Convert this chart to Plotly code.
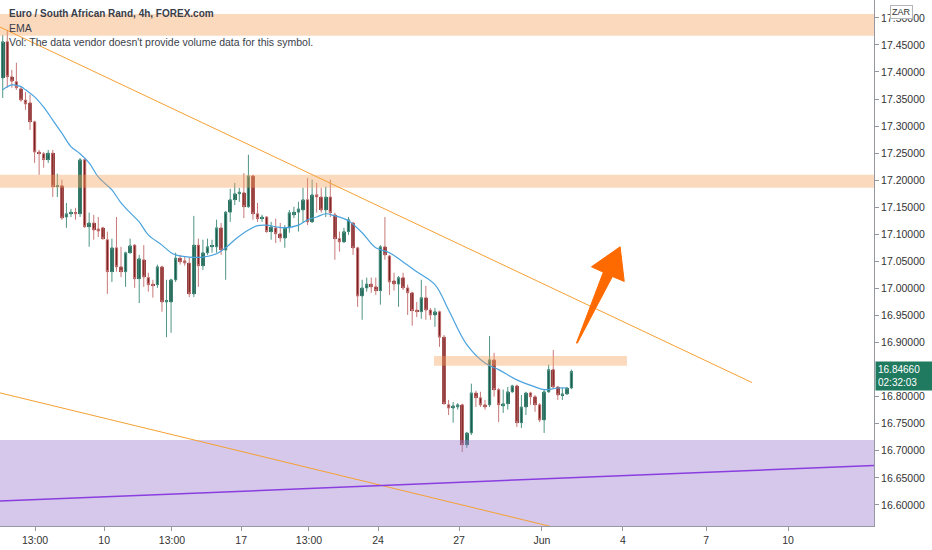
import plotly.graph_objects as go

# EUR/ZAR 4h candles (oldest first)
opens = [17.389, 17.456, 17.391, 17.382, 17.369, 17.348, 17.343, 17.308, 17.252, 17.249,
         17.238, 17.250, 17.188, 17.190, 17.132, 17.138, 17.140, 17.138, 17.238, 17.114,
         17.121, 17.110, 17.112, 17.090, 17.031, 17.075, 17.040, 17.031, 17.066, 17.080,
         17.018, 17.053, 17.020, 17.008, 17.007, 17.040, 16.975, 16.975, 17.016, 17.056,
         17.051, 17.047, 16.990, 17.080, 17.042, 17.066, 17.077, 17.077, 17.112, 17.071,
         17.141, 17.164, 17.175, 17.177, 17.151, 17.208, 17.138, 17.129, 17.132, 17.105,
         17.112, 17.101, 17.093, 17.112, 17.136, 17.141, 17.145, 17.164, 17.123, 17.173,
         17.169, 17.145, 17.169, 17.136, 17.092, 17.086, 17.105, 17.121, 17.075, 16.986,
         17.001, 17.008, 17.003, 16.996, 17.077, 17.060, 17.014, 17.008, 17.020, 17.001,
         16.992, 16.960, 16.957, 16.983, 16.960, 16.951, 16.957, 16.910, 16.785, 16.779,
         16.781, 16.785, 16.711, 16.733, 16.807, 16.798, 16.785, 16.785, 16.868, 16.813,
         16.783, 16.787, 16.809, 16.820, 16.752, 16.781, 16.807, 16.800, 16.785, 16.757,
         16.809, 16.850, 16.818, 16.803, 16.805, 16.816]
highs = [17.468, 17.478, 17.404, 17.417, 17.372, 17.363, 17.358, 17.310, 17.256, 17.252,
         17.256, 17.256, 17.212, 17.201, 17.158, 17.147, 17.149, 17.241, 17.240, 17.140,
         17.136, 17.132, 17.114, 17.105, 17.092, 17.132, 17.077, 17.068, 17.092, 17.082,
         17.062, 17.080, 17.029, 17.016, 17.044, 17.042, 17.016, 17.018, 17.066, 17.062,
         17.058, 17.058, 17.134, 17.092, 17.090, 17.092, 17.090, 17.127, 17.121, 17.143,
         17.184, 17.195, 17.186, 17.213, 17.247, 17.210, 17.158, 17.136, 17.134, 17.123,
         17.129, 17.121, 17.117, 17.145, 17.151, 17.160, 17.186, 17.204, 17.201, 17.195,
         17.186, 17.188, 17.201, 17.140, 17.105, 17.112, 17.132, 17.123, 17.077, 17.016,
         17.020, 17.020, 17.020, 17.080, 17.132, 17.062, 17.029, 17.023, 17.029, 17.007,
         16.994, 16.975, 17.016, 17.005, 16.964, 16.964, 16.959, 16.914, 16.794, 16.790,
         16.788, 16.787, 16.735, 16.824, 16.811, 16.809, 16.794, 16.912, 16.881, 16.816,
         16.813, 16.818, 16.822, 16.822, 16.803, 16.809, 16.809, 16.803, 16.788, 16.813,
         16.859, 16.886, 16.820, 16.816, 16.818, 16.850]
lows = [17.352, 17.371, 17.371, 17.367, 17.345, 17.330, 17.293, 17.232, 17.210, 17.223,
        17.232, 17.169, 17.169, 17.127, 17.112, 17.132, 17.127, 17.132, 17.112, 17.077,
        17.090, 17.095, 17.090, 16.990, 17.012, 17.031, 17.021, 17.003, 17.064, 17.001,
        16.973, 17.003, 16.994, 16.983, 17.001, 16.957, 16.910, 16.918, 17.012, 17.044,
        17.042, 16.984, 16.984, 17.003, 17.034, 17.062, 17.066, 17.066, 17.062, 17.016,
        17.123, 17.154, 17.160, 17.130, 17.149, 17.127, 17.123, 17.123, 17.103, 17.090,
        17.084, 17.086, 17.075, 17.103, 17.130, 17.105, 17.121, 17.117, 17.121, 17.140,
        17.140, 17.132, 17.132, 17.053, 17.068, 17.084, 17.099, 17.062, 16.966, 16.942,
        16.994, 16.992, 16.988, 16.970, 17.053, 16.988, 16.996, 16.966, 16.997, 16.951,
        16.931, 16.947, 16.944, 16.942, 16.942, 16.929, 16.892, 16.785, 16.766, 16.752,
        16.776, 16.698, 16.705, 16.729, 16.781, 16.781, 16.776, 16.781, 16.800, 16.753,
        16.770, 16.776, 16.807, 16.744, 16.742, 16.766, 16.785, 16.772, 16.753, 16.733,
        16.807, 16.816, 16.794, 16.794, 16.803, 16.814]
closes = [17.456, 17.391, 17.383, 17.371, 17.348, 17.341, 17.308, 17.252, 17.249, 17.238,
          17.250, 17.188, 17.190, 17.130, 17.138, 17.141, 17.138, 17.238, 17.114, 17.121,
          17.108, 17.106, 17.092, 17.031, 17.075, 17.040, 17.031, 17.066, 17.079, 17.018,
          17.055, 17.021, 17.007, 17.005, 17.040, 16.975, 16.977, 17.016, 17.056, 17.049,
          17.047, 16.990, 17.080, 17.042, 17.066, 17.077, 17.079, 17.112, 17.071, 17.141,
          17.164, 17.175, 17.178, 17.151, 17.208, 17.138, 17.129, 17.132, 17.105, 17.114,
          17.101, 17.093, 17.112, 17.140, 17.141, 17.147, 17.164, 17.123, 17.173, 17.169,
          17.145, 17.169, 17.140, 17.092, 17.086, 17.105, 17.127, 17.075, 16.986, 17.001,
          17.008, 17.003, 16.996, 17.077, 17.062, 17.012, 17.008, 17.020, 17.001, 16.992,
          16.959, 16.957, 16.983, 16.960, 16.951, 16.957, 16.910, 16.787, 16.779, 16.783,
          16.785, 16.711, 16.733, 16.807, 16.798, 16.785, 16.781, 16.868, 16.813, 16.785,
          16.787, 16.809, 16.820, 16.752, 16.781, 16.807, 16.800, 16.785, 16.757, 16.809,
          16.850, 16.818, 16.803, 16.805, 16.816, 16.8466]
bars = list(range(len(closes)))

# EMA line, read at a number of bars
ema_bar = [0, 2, 4, 5, 7, 9, 11, 13, 15, 17, 19, 21, 24, 26, 28, 30, 32, 35, 37, 38,
           41, 44, 47, 49, 51, 54, 56, 58, 60, 62, 65, 67, 69, 71, 73, 75, 76, 79, 82,
           85, 88, 91, 95, 98, 102, 106, 109, 113, 117, 119, 122, 124]
ema_val = [17.367, 17.376, 17.373, 17.367, 17.354, 17.335, 17.311, 17.287, 17.262, 17.249,
           17.232, 17.206, 17.182, 17.158, 17.140, 17.123, 17.099, 17.080, 17.066, 17.062,
           17.058, 17.058, 17.064, 17.075, 17.090, 17.108, 17.116, 17.117, 17.114, 17.112,
           17.117, 17.127, 17.132, 17.138, 17.134, 17.129, 17.125, 17.103, 17.075, 17.066,
           17.049, 17.031, 17.007, 16.960, 16.896, 16.862, 16.850, 16.831, 16.818, 16.813,
           16.816, 16.816]

tick_bars = [7.1, 22.3, 37.2, 52.4, 67.3, 82.5, 100.3, 118.5, 136.3, 154.6, 172.6]
tick_text = ["13:00", "10", "13:00", "17", "13:00", "24", "27", "Jun", "4", "7", "10"]
# price scale labels (16.85 sits under the last-price tag)
price_ticks = [16.60, 16.65, 16.70, 16.75, 16.80, 16.90, 16.95, 17.00, 17.05, 17.10,
               17.15, 17.20, 17.25, 17.30, 17.35, 17.40, 17.45, 17.50]

x_range = [-0.6, 191.5]
y_range = [16.561, 17.533]

# drawings on the chart
top_zone = [17.467, 17.507]
mid_zone = [17.186, 17.210]
small_zone_bars = [94.8, 137.2]
small_zone = [16.857, 16.875]
floor_top = 16.720
upper_trend_bars, upper_trend = [-0.6, 164.7], [17.483, 16.826]
lower_trend_bars, lower_trend = [-0.6, 131.3], [16.807, 16.538]
purple_trend_bars, purple_trend = [-0.6, 191.5], [16.607, 16.673]
arrow_bars = [126.1, 132.0, 129.4, 135.7, 136.6, 134.0, 126.3]
arrow_prices = [16.899, 17.030, 17.040, 17.077, 17.013, 17.022, 16.899]

up_body, up_wick = "#1d5c4d", "#4f9585"
dn_body, dn_wick = "#7a2222", "#c87878"

fig = go.Figure()
fig.add_trace(go.Candlestick(
    x=bars, open=opens, high=highs, low=lows, close=closes,
    increasing=dict(line=dict(color=up_wick, width=1), fillcolor=up_body),
    decreasing=dict(line=dict(color=dn_wick, width=1), fillcolor=dn_body),
    whiskerwidth=0, showlegend=False, hoverinfo="skip"))
fig.add_trace(go.Bar(
    x=bars,
    base=[min(o, c) for o, c in zip(opens, closes)],
    y=[max(abs(c - o), 0.0015) for o, c in zip(opens, closes)],
    width=0.78,
    marker=dict(color=[up_body if c >= o else dn_body for o, c in zip(opens, closes)],
                line=dict(width=0)),
    showlegend=False, hoverinfo="skip"))
fig.add_trace(go.Scatter(x=ema_bar, y=ema_val, mode="lines",
                         line=dict(color="#4aa3df", width=1.2, shape="spline"),
                         showlegend=False, hoverinfo="skip"))

zone_orange = "rgba(245,160,90,0.4)"
for lo, hi in (top_zone, mid_zone):
    fig.add_shape(type="rect", xref="x", yref="y", x0=x_range[0], x1=x_range[1],
                  y0=lo, y1=hi, fillcolor=zone_orange, line_width=0, layer="above")
fig.add_shape(type="rect", xref="x", yref="y", x0=small_zone_bars[0], x1=small_zone_bars[1],
              y0=small_zone[0], y1=small_zone[1], fillcolor=zone_orange, line_width=0,
              layer="above")
fig.add_shape(type="rect", xref="x", yref="y", x0=x_range[0], x1=x_range[1],
              y0=y_range[0], y1=floor_top, fillcolor="rgba(149,117,205,0.4)",
              line_width=0, layer="above")
for xs, ys, col, w in ((upper_trend_bars, upper_trend, "#f5a033", 1),
                       (lower_trend_bars, lower_trend, "#f5a033", 1),
                       (purple_trend_bars, purple_trend, "#8a3ee0", 1.5)):
    fig.add_shape(type="line", xref="x", yref="y", x0=xs[0], x1=xs[1], y0=ys[0], y1=ys[1],
                  line=dict(color=col, width=w), layer="above")
arrow_path = "M " + " L ".join(f"{b},{p}" for b, p in zip(arrow_bars, arrow_prices)) + " Z"
fig.add_shape(type="path", xref="x", yref="y", path=arrow_path,
              fillcolor="#ff6a00", line=dict(color="#ff6a00", width=1), layer="above")

label_font = dict(family="Liberation Sans, sans-serif", size=10.5, color="#3a3e4a")
legend_lines = [("<b>Euro / South African Rand, 4h, FOREX.com</b>", 0.975, 10),
                ("EMA", 0.947, 10.5),
                ("Vol: The data vendor doesn't provide volume data for this symbol.", 0.920, 10.5)]
for txt, yy, sz in legend_lines:
    fig.add_annotation(xref="paper", yref="paper", x=0.008, y=yy, text=txt,
                       showarrow=False, xanchor="left", yanchor="middle",
                       font=dict(label_font, size=sz))

fig.add_annotation(xref="paper", yref="paper", x=1.031, y=0.977, text="ZAR",
                   showarrow=False, xanchor="center", yanchor="middle",
                   font=dict(family="Liberation Sans", size=9, color="#333"),
                   bgcolor="white", bordercolor="#b2b5be", borderwidth=1, borderpad=1)
fig.add_annotation(xref="paper", yref="y", x=1.0, y=closes[-1], xshift=1, yshift=-5,
                   text=f"{closes[-1]:.5f}<br>02:32:03", showarrow=False,
                   xanchor="left", yanchor="middle", align="left", width=52,
                   font=dict(family="Liberation Sans", size=10, color="white"),
                   bgcolor="#1f7a5f", borderpad=2)

axis_font = dict(family="Liberation Sans, sans-serif", size=10.5, color="#333")
fig.update_layout(
    width=932, height=550,
    margin=dict(l=0, r=58, t=0, b=24),
    paper_bgcolor="white", plot_bgcolor="white",
    barmode="overlay", bargap=0,
    xaxis=dict(range=x_range, tickvals=tick_bars, ticktext=tick_text,
               showgrid=False, zeroline=False, showline=True, linecolor="#9598a1",
               ticks="outside", ticklen=4, tickcolor="#9598a1", tickfont=axis_font,
               rangeslider=dict(visible=False), fixedrange=True),
    yaxis=dict(range=y_range, side="right", tickvals=price_ticks, tickformat=".5f",
               showgrid=False, zeroline=False, showline=True, linecolor="#9598a1",
               ticks="outside", ticklen=4, tickcolor="#9598a1", tickfont=axis_font),
)

fig.write_html("out.html", config={"displayModeBar": False},
               post_script="document.body.style.margin='0';")
